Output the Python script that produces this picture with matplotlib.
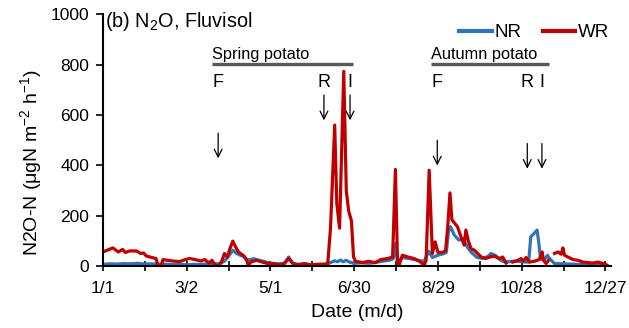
#!/usr/bin/env python3
"""N2O flux, Fluvisol: NR vs WR daily series with crop-season markers."""

import numpy as np
import matplotlib
matplotlib.use("Agg")
import matplotlib.pyplot as plt

plt.rcParams["font.family"] = ["Liberation Sans", "DejaVu Sans"]
plt.rcParams["mathtext.default"] = "regular"

# day of year (0 = 1/1) and flux; nan = gap in record
wr_days = [0, 3, 7, 11, 14, 16, 19, 24, 27, 29, 31, 35, 38, 39.5, 41.5, 43, 45, 50,
           55, 59, 62, 66, 70, 73, 76, 78, 80.5, 83, 85, 87, 89, 91, 93, 95, 97, 101,
           103, 104, 106, 110, 114, 118, 122, 127, 130, 133, 136, 140, 144, 148, 153,
           158, 161, 163, 166, 167.5, 169.5, 172.5, 174.3, 176, 178, 179.5, 181, 186,
           190, 195, 199, 204, 207.5, 209.5, 211, 212, 214.5, 218.5, 223, 227.5, 230,
           231.5, 233.7, 236, 238, 240, 243.5, 245.5, 247, 248.6, 250, 252, 254,
           256.5, 258.8, 260, 261.6, 263.6, 266, 268.4, 271, 274.4, 277, 280.4, 284,
           286.4, 288.8, 290.5, 293.6, 297.2, 299.6, 301, 303.2, 305.5, 309.1, 312.7,
           314.7, 315.6, 317.5, 319.2, 321, 323.5, 326, 328.3, 329.5, 330.7, 333.1,
           336.7, 340.3, 343.9, 351, 354.7, 358.3, 361]
wr_flux = [57, 64, 73, 57, 67, 55, 61, 61, 51, 53, 41, 35, 31, 0, 0, 27, 25, 21,
           19, 27, 31, 27, 21, 27, 13, 24, 4, 0, 20, 51, 37, 71, 100, 77, 57, 41,
           24, 4, 17, 24, 17, 11, 11, 5, 11, 31, 11, 5, 11, 5, 8,
           8, 11, 150, 560, 250, 151, 773, 300, 220, 180, 37, 20, 15,
           20, 15, 27, 31, 37, 384, 24, 2, 44, 37, 31, 17, 4,
           24, 381, 51, 97, 55, 55, 64, 157, 291, 184, 171, 157,
           117, 84, 144, 104, 71, 64, 51, 37, 31, 37, 40, 31,
           37, 13, np.nan, 17, 24, 31, 20, 35, 17, 20, 27,
           57, 24, 11, 24, np.nan, 51, 57, 48, 73, 44, 37,
           27, 24, 17, 13, 17, 11, 5]

nr_days = [0, 5, 10, 15, 20, 25, 30, 35, 40, 45, 50, 55, 60, 65, 70, 75, 80, 84,
           87, 90, 93, 96, 100, 104, 108, 112, 116, 120, 125, 130, 133, 136, 140,
           145, 150, 155, 160, 163, 166, 168, 170, 172, 174, 177, 180, 186, 190,
           195, 200, 205, 208, 209.5, 211, 215, 220, 225, 230, 233.5, 236, 240,
           244, 246, 247.5, 249, 251.7, 255, 258, 261, 264, 268, 272, 276, 278,
           281, 285, 288, 293, 297, 302, 305, 306.5, 309, 311, 312, 313.5, 316,
           318.5, 320, 323.5, 330, 340, 350, 360]
nr_flux = [8, 10, 9, 11, 10, 12, 9, 10, 8, 9, 7, 8, 6, 8, 7, 10, 9, 12,
           20, 40, 64, 50, 40, 25, 30, 24, 18, 12, 10, 12, 37, 12, 8,
           10, 6, 8, 8, 15, 22, 18, 25, 18, 24, 16, 12, 14, 12,
           15, 20, 24, 30, 90, 20, 35, 30, 25, 20, 60, 35, 44,
           50, 55, 137, 157, 124, 104, 111, 77, 55, 35, 31, 40, 51,
           44, 24, 17, 20, 20, 17, 17, 117, 131, 144, 104, 31, 24,
           44, 31, 11, 10, 8, 7, 5]

tick_days = [0, 60, 120, 180, 240, 300, 360]
tick_labels = ["1/1", "3/2", "5/1", "6/30", "8/29", "10/28", "12/27"]

# crop seasons: (label, start day, end day) and events (letter, day)
seasons = [("Spring potato", 78, 179), ("Autumn potato", 234.7, 319.7)]
events = [("F", 82.5), ("R", 158.3), ("I", 177), ("F", 239.5), ("R", 304), ("I", 314.5)]
arrow_tops = [528, 679, 679, 500, 487, 487]

BLUE = "#2E75B6"
RED = "#C00000"

fig = plt.figure(figsize=(6.29, 3.28), dpi=100)
ax = fig.add_axes([0.1638, 0.188, 0.8076, 0.769])

ax.plot(nr_days, nr_flux, color=BLUE, lw=2.3, label="NR", solid_joinstyle="round")
ax.plot(wr_days, wr_flux, color=RED, lw=2.3, label="WR", solid_joinstyle="round")

ax.set_xlim(0, 364)
ax.set_ylim(0, 1000)
ax.set_xticks(tick_days)
ax.set_xticklabels(tick_labels)
ax.set_xticks(np.arange(30, 360, 60), minor=True)
ax.set_yticks(range(0, 1001, 200))
ax.tick_params(axis="x", which="both", direction="inout", length=7, width=1.2,
               labelsize=12.5, pad=7)
ax.tick_params(axis="y", direction="out", length=5, width=1.2, labelsize=12.5, pad=5)
for side in ("top", "right"):
    ax.spines[side].set_visible(False)
for side in ("left", "bottom"):
    ax.spines[side].set_linewidth(1.5)

ax.set_xlabel("Date (m/d)", fontsize=14, labelpad=6)
fig.text(0.05, 0.503, "N2O-N (μgN m$^{-2}$ h$^{-1}$)", rotation=90,
         ha="center", va="center", fontsize=14)

ax.text(1.5, 972, "(b) N$_2$O, Fluvisol", fontsize=14.3, va="center", ha="left")

for label, d0, d1 in seasons:
    ax.plot([d0, d1], [804, 804], color="#595959", lw=2.4, solid_capstyle="butt",
            clip_on=False)
    ax.text(d0, 812, label, fontsize=11.8, ha="left", va="bottom")

for (letter, d), top in zip(events, arrow_tops):
    ax.text(d, 730, letter, fontsize=13, ha="center", va="center")
    ax.annotate("", xy=(d, top - 100), xytext=(d, top),
                arrowprops=dict(arrowstyle="->", lw=0.9, color="black",
                                mutation_scale=14, shrinkA=0, shrinkB=0))

leg = ax.legend(loc="upper right", ncol=2, frameon=False, fontsize=13.5,
                handlelength=1.75, handletextpad=0.16, columnspacing=1.12,
                bbox_to_anchor=(1.012, 0.99), borderaxespad=0)
for h in leg.get_lines():
    h.set_linewidth(3)

fig.savefig("out.png", dpi=100)
